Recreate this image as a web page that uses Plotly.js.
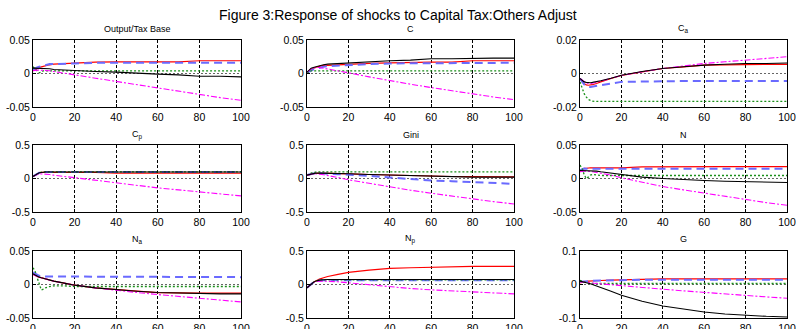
<!DOCTYPE html>
<html><head><meta charset="utf-8">
<script src="https://cdn.plot.ly/plotly-3.0.1.min.js"></script>
<style>html,body{margin:0;padding:0;background:#fff}#chart{width:796px;height:329px}</style>
</head><body><div id="chart"></div>
<script>
const periods = [0,1,2,3,4,5,6,8,10,15,20,30,40,50,60,70,80,90,100];

// Output/Tax Base
const outRed   = [0.004,0.006,0.008,0.009,0.010,0.011,0.012,0.013,0.014,0.015,0.016,0.017,0.0175,0.0175,0.0175,0.0175,0.019,0.019,0.019];
const outBlue  = [0.006,0.008,0.009,0.010,0.011,0.012,0.013,0.014,0.014,0.015,0.015,0.016,0.016,0.016,0.016,0.016,0.016,0.016,0.016];
const outGreen = [0.010,0.007,0.003,0.001,0.002,0.004,0.004,0.004,0.004,0.004,0.004,0.004,0.004,0.004,0.004,0.004,0.004,0.004,0.004];
const outBlack = [0.008,0.008,0.008,0.008,0.008,0.008,0.007,0.007,0.006,0.005,0.004,0.003,0.002,0.000,-0.001,-0.002,-0.004,-0.004,-0.005];
const outMag   = [0.004,0.005,0.005,0.005,0.005,0.005,0.004,0.004,0.003,0.001,-0.002,-0.007,-0.012,-0.017,-0.022,-0.027,-0.032,-0.036,-0.040];

// C
const cRed   = [0.000,0.004,0.006,0.008,0.009,0.010,0.011,0.012,0.012,0.013,0.014,0.015,0.016,0.017,0.017,0.017,0.019,0.019,0.019];
const cBlue  = [0.001,0.003,0.005,0.006,0.007,0.008,0.009,0.010,0.011,0.012,0.013,0.014,0.015,0.015,0.016,0.016,0.016,0.016,0.016];
const cGreen = [0.000,0.002,0.004,0.004,0.004,0.004,0.004,0.004,0.004,0.004,0.004,0.004,0.004,0.004,0.004,0.004,0.004,0.004,0.004];
const cBlack = [0.002,0.005,0.008,0.009,0.010,0.011,0.012,0.013,0.014,0.015,0.016,0.018,0.019,0.020,0.022,0.022,0.023,0.023,0.023];
const cMag   = [0.002,0.005,0.007,0.008,0.009,0.009,0.009,0.008,0.007,0.004,0.001,-0.005,-0.011,-0.016,-0.021,-0.026,-0.031,-0.035,-0.039];

// Ca
const caRed   = [-0.003,-0.005,-0.006,-0.0068,-0.007,-0.007,-0.0067,-0.006,-0.005,-0.003,-0.0012,0.001,0.003,0.004,0.005,0.0052,0.0055,0.0055,0.0055];
const caBlue  = [-0.003,-0.005,-0.0065,-0.0075,-0.008,-0.008,-0.0078,-0.0073,-0.0068,-0.006,-0.005,-0.0048,-0.0045,-0.0045,-0.0045,-0.0045,-0.0045,-0.0045,-0.0045];
const caGreen = [-0.005,-0.009,-0.012,-0.014,-0.0155,-0.016,-0.0165,-0.0167,-0.0167,-0.0167,-0.0167,-0.0167,-0.0167,-0.0167,-0.0167,-0.0167,-0.0167,-0.0167,-0.0167];
const caBlack = [-0.003,-0.004,-0.005,-0.0053,-0.0055,-0.0055,-0.0053,-0.005,-0.0043,-0.0028,-0.001,0.0012,0.003,0.004,0.005,0.0055,0.006,0.006,0.0063];
const caMag   = [-0.003,-0.004,-0.005,-0.0055,-0.006,-0.006,-0.0058,-0.0052,-0.0045,-0.003,-0.0012,0.001,0.003,0.0045,0.006,0.007,0.008,0.009,0.010];

// Cp
const cpRed   = [0.03,0.05,0.07,0.085,0.09,0.09,0.09,0.09,0.09,0.09,0.09,0.09,0.078,0.078,0.078,0.078,0.078,0.078,0.078];
const cpBlue  = [0.03,0.05,0.07,0.085,0.09,0.095,0.097,0.097,0.097,0.097,0.097,0.097,0.097,0.097,0.097,0.097,0.097,0.097,0.097];
const cpGreen = [0.03,0.05,0.07,0.085,0.095,0.10,0.10,0.10,0.10,0.10,0.10,0.10,0.10,0.10,0.10,0.10,0.10,0.10,0.10];
const cpBlack = [0.03,0.05,0.07,0.085,0.09,0.095,0.097,0.097,0.097,0.097,0.097,0.097,0.097,0.097,0.097,0.097,0.097,0.097,0.097];
const cpMag   = [0.03,0.05,0.06,0.07,0.07,0.07,0.07,0.06,0.05,0.03,0.01,-0.03,-0.07,-0.105,-0.14,-0.17,-0.20,-0.23,-0.26];

// Gini
const giniRed   = [0.05,0.06,0.065,0.07,0.075,0.08,0.08,0.08,0.08,0.075,0.07,0.06,0.05,0.045,0.04,0.03,0.028,0.025,0.025];
const giniBlue  = [0.05,0.06,0.07,0.075,0.08,0.08,0.08,0.075,0.07,0.065,0.06,0.04,0.015,-0.01,-0.03,-0.04,-0.055,-0.07,-0.08];
const giniGreen = [0.05,0.07,0.08,0.09,0.10,0.10,0.10,0.10,0.10,0.10,0.10,0.10,0.10,0.10,0.10,0.10,0.10,0.10,0.10];
const giniBlack = [0.05,0.06,0.07,0.075,0.08,0.08,0.08,0.08,0.08,0.075,0.07,0.06,0.05,0.04,0.03,0.025,0.02,0.02,0.02];
const giniMag   = [0.05,0.06,0.07,0.07,0.07,0.07,0.065,0.055,0.045,0.015,-0.02,-0.075,-0.13,-0.175,-0.22,-0.265,-0.31,-0.345,-0.38];

// N
const nRed   = [0.010,0.013,0.015,0.015,0.016,0.016,0.016,0.016,0.016,0.016,0.016,0.0175,0.0178,0.0178,0.0178,0.0178,0.0178,0.0178,0.0178];
const nBlue  = [0.012,0.014,0.015,0.0145,0.0145,0.0145,0.0145,0.0145,0.0145,0.0145,0.0145,0.0145,0.0145,0.0145,0.0145,0.0145,0.0145,0.0145,0.0145];
const nGreen = [0.020,0.015,0.006,0.000,0.002,0.005,0.006,0.005,0.0045,0.0045,0.0045,0.0045,0.0045,0.0045,0.0045,0.0045,0.0045,0.0045,0.0045];
const nBlack = [0.012,0.012,0.012,0.012,0.012,0.011,0.011,0.011,0.010,0.008,0.005,0.002,0.000,-0.002,-0.003,-0.004,-0.005,-0.006,-0.006];
const nMag   = [0.010,0.011,0.011,0.011,0.011,0.010,0.010,0.009,0.008,0.005,0.001,-0.006,-0.012,-0.017,-0.022,-0.027,-0.032,-0.036,-0.040];

// Na
const naRed   = [0.015,0.013,0.012,0.011,0.010,0.009,0.008,0.006,0.005,0.002,-0.001,-0.005,-0.008,-0.010,-0.012,-0.013,-0.013,-0.013,-0.013];
const naBlue  = [0.018,0.016,0.014,0.013,0.012,0.012,0.011,0.011,0.011,0.011,0.011,0.011,0.011,0.011,0.011,0.011,0.011,0.011,0.011];
const naGreen = [0.025,0.020,0.010,0.000,-0.008,-0.007,-0.005,-0.003,-0.002,-0.002,-0.003,-0.003,-0.003,-0.003,-0.003,-0.003,-0.003,-0.003,-0.003];
const naBlack = [0.016,0.014,0.012,0.011,0.010,0.009,0.008,0.006,0.005,0.002,-0.001,-0.005,-0.008,-0.010,-0.012,-0.013,-0.014,-0.014,-0.014];
const naMag   = [0.015,0.013,0.012,0.011,0.010,0.009,0.008,0.006,0.005,0.002,-0.001,-0.005,-0.009,-0.012,-0.015,-0.018,-0.021,-0.023,-0.026];

// Np
const npRed   = [-0.05,-0.02,0.01,0.03,0.05,0.07,0.08,0.10,0.12,0.15,0.18,0.215,0.24,0.25,0.26,0.265,0.27,0.27,0.27];
const npBlue  = [-0.05,-0.02,0.01,0.03,0.045,0.055,0.06,0.065,0.065,0.065,0.065,0.065,0.065,0.065,0.065,0.065,0.065,0.065,0.065];
const npGreen = [-0.05,-0.02,0.01,0.03,0.05,0.06,0.065,0.07,0.07,0.07,0.07,0.07,0.07,0.07,0.07,0.07,0.07,0.07,0.07];
const npBlack = [-0.05,-0.02,0.01,0.03,0.05,0.06,0.065,0.07,0.075,0.075,0.075,0.075,0.075,0.075,0.075,0.075,0.075,0.075,0.075];
const npMag   = [-0.05,-0.02,0.01,0.03,0.04,0.05,0.05,0.05,0.05,0.04,0.025,-0.005,-0.04,-0.06,-0.08,-0.095,-0.11,-0.125,-0.14];

// G
const gRed   = [0.005,0.007,0.008,0.009,0.010,0.010,0.011,0.012,0.012,0.013,0.014,0.014,0.017,0.017,0.017,0.017,0.017,0.017,0.017];
const gBlue  = [0.008,0.008,0.009,0.009,0.010,0.010,0.011,0.011,0.012,0.013,0.013,0.014,0.014,0.014,0.014,0.014,0.014,0.014,0.014];
const gGreen = [0.012,0.010,0.007,0.005,0.004,0.003,0.003,0.003,0.003,0.003,0.003,0.003,0.003,0.003,0.003,0.003,0.003,0.003,0.003];
const gBlack = [0.010,0.009,0.008,0.006,0.004,0.002,0.000,-0.004,-0.008,-0.020,-0.032,-0.050,-0.064,-0.074,-0.082,-0.088,-0.092,-0.095,-0.097];
const gMag   = [0.008,0.008,0.007,0.007,0.006,0.005,0.005,0.003,0.002,-0.001,-0.004,-0.009,-0.014,-0.019,-0.024,-0.029,-0.033,-0.037,-0.041];

const panelTitles = ['Output/Tax Base','C','C<sub>a</sub>','C<sub>p</sub>','Gini','N','N<sub>a</sub>','N<sub>p</sub>','G'];
const xTicks = [0,20,40,60,80,100];

const panels = [
  {red:outRed, blue:outBlue, green:outGreen, black:outBlack, mag:outMag, lim:0.05, lab:['-0.05','0','0.05']},
  {red:cRed, blue:cBlue, green:cGreen, black:cBlack, mag:cMag, lim:0.05, lab:['-0.05','0','0.05']},
  {red:caRed, blue:caBlue, green:caGreen, black:caBlack, mag:caMag, lim:0.02, lab:['-0.02','0','0.02']},
  {red:cpRed, blue:cpBlue, green:cpGreen, black:cpBlack, mag:cpMag, lim:0.5, lab:['-0.5','0','0.5']},
  {red:giniRed, blue:giniBlue, green:giniGreen, black:giniBlack, mag:giniMag, lim:0.5, lab:['-0.5','0','0.5']},
  {red:nRed, blue:nBlue, green:nGreen, black:nBlack, mag:nMag, lim:0.05, lab:['-0.05','0','0.05']},
  {red:naRed, blue:naBlue, green:naGreen, black:naBlack, mag:naMag, lim:0.05, lab:['-0.05','0','0.05']},
  {red:npRed, blue:npBlue, green:npGreen, black:npBlack, mag:npMag, lim:0.5, lab:['-0.5','0','0.5']},
  {red:gRed, blue:gBlue, green:gGreen, black:gBlack, mag:gMag, lim:0.1, lab:['-0.1','0','0.1']}
];

const W = 796, H = 329;
const colPx = [[33,241],[307,514],[580,787]];
const rowPx = [[40,107],[145,212],[251,318]];
const titleY = [29,135,239];

const styles = {
  red:   {color:'#ff0000', width:1.2, dash:'solid'},
  blue:  {color:'#6a6aff', width:2, dash:'8px,5px'},
  green: {color:'#1a8f1a', width:1.3, dash:'2px,2px'},
  mag:   {color:'#ff00ff', width:1.1, dash:'6px,2px,2px,2px'},
  black: {color:'#000000', width:1.1, dash:'solid'}
};
const order = ['red','blue','green','mag','black'];

const data = [];
const layout = {
  width: W, height: H,
  margin: {l:0, r:0, t:0, b:0},
  paper_bgcolor: '#fff', plot_bgcolor: '#fff',
  showlegend: false,
  font: {family: 'Liberation Sans, Arial, sans-serif', color: '#000', size: 10.5},
  annotations: []
};

layout.annotations.push({
  text: 'Figure 3:Response of shocks to Capital Tax:Others Adjust',
  xref:'paper', yref:'paper', x: 398/W, y: 1 - 15/H,
  xanchor:'center', yanchor:'middle', showarrow:false,
  font:{size:14, color:'#000'}
});

panels.forEach((p, i) => {
  const k = i + 1;
  const r = Math.floor(i / 3), c = i % 3;
  const xs = k === 1 ? '' : String(k);
  order.forEach(key => {
    const s = styles[key];
    data.push({
      x: periods, y: p[key], type:'scatter', mode:'lines',
      xaxis: 'x' + xs, yaxis: 'y' + xs,
      line: {color: s.color, width: s.width, dash: s.dash},
      hoverinfo: 'skip'
    });
  });
  layout['xaxis' + xs] = {
    domain: [colPx[c][0]/W, colPx[c][1]/W],
    anchor: 'y' + xs,
    range: [0, 100],
    tickvals: xTicks,
    ticktext: xTicks.map(String),
    showgrid: true, gridcolor: '#000', gridwidth: 1, griddash: '3px,2px',
    showline: true, mirror: true, linecolor: '#000', linewidth: 1,
    ticks: 'inside', ticklen: 3, tickcolor: '#000',
    zeroline: false, fixedrange: true,
    tickfont: {size: 10.5, color:'#000'}
  };
  layout['yaxis' + xs] = {
    domain: [1 - rowPx[r][1]/H, 1 - rowPx[r][0]/H],
    anchor: 'x' + xs,
    range: [-p.lim, p.lim],
    tickvals: [-p.lim, 0, p.lim],
    ticktext: p.lab,
    showgrid: true, gridcolor: '#666', gridwidth: 1, griddash: '2px,2px',
    showline: true, mirror: true, linecolor: '#000', linewidth: 1,
    ticks: 'inside', ticklen: 3, tickcolor: '#000',
    zeroline: false, fixedrange: true,
    tickfont: {size: 10.5, color:'#000'}
  };
  layout.annotations.push({
    text: panelTitles[i],
    xref:'paper', yref:'paper',
    x: (colPx[c][0] + colPx[c][1]) / 2 / W, y: 1 - titleY[r]/H,
    xanchor:'center', yanchor:'middle', showarrow:false,
    font:{size:9, color:'#000'}
  });
});

Plotly.newPlot('chart', data, layout, {staticPlot: true, displayModeBar: false});
</script>
</body></html>
